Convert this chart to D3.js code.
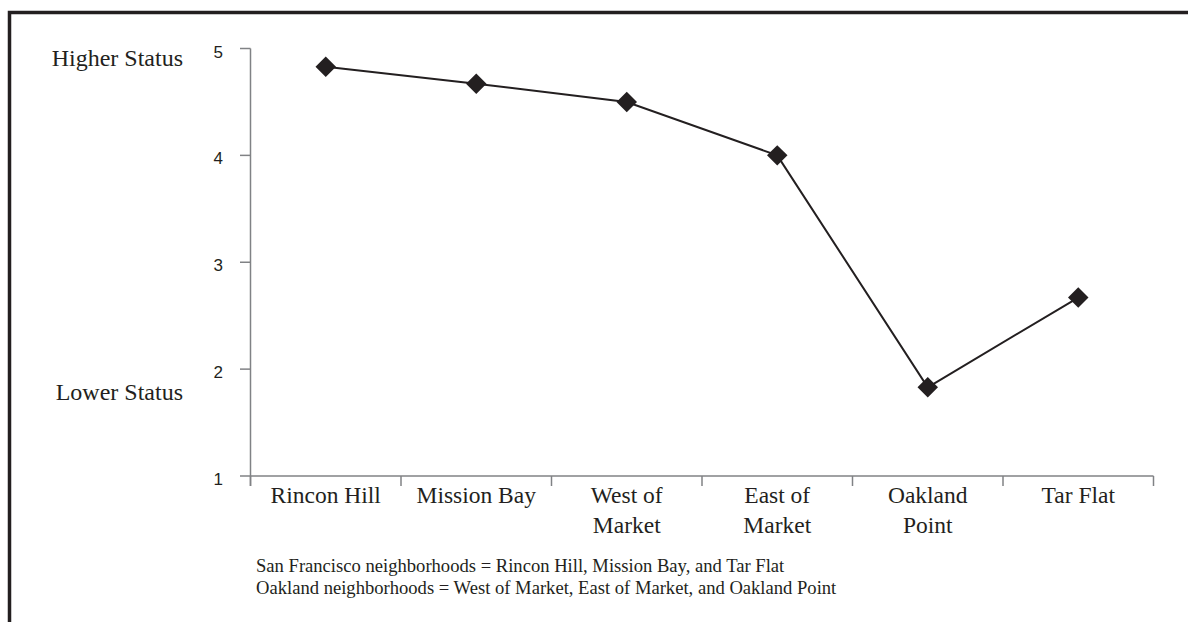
<!DOCTYPE html>
<html><head><meta charset="utf-8">
<script src="https://cdn.jsdelivr.net/npm/d3@7"></script>
<style>body{margin:0;background:#fff}</style>
</head><body>
<script>
const categories = [["Rincon Hill"],["Mission Bay"],["West of","Market"],["East of","Market"],["Oakland","Point"],["Tar Flat"]];
const values = [4.83, 4.67, 4.5, 4.0, 1.83, 2.67];
const yTicks = [1,2,3,4,5];
const statusLabels = [{v:5, t:"Higher Status"},{v:2, t:"Lower Status"}];
const notes = ["San Francisco neighborhoods = Rincon Hill, Mission Bay, and Tar Flat",
               "Oakland neighborhoods = West of Market, East of Market, and Oakland Point"];

const W=1188,H=622;
const svg=d3.select("body").append("svg").attr("width",W).attr("height",H);
const ink="#231f20", axisC="#808285";
const serif="Liberation Serif, Times New Roman, serif";
// frame
svg.append("path").attr("d",`M9.5,${H} V12.5 H${W}`).attr("fill","none").attr("stroke",ink).attr("stroke-width",3.5);

const x=d3.scaleBand().domain(d3.range(categories.length)).range([250.5,1153.5]);
const y=d3.scaleLinear().domain([1,5]).range([476,48.5]);

// y axis
const gy=svg.append("g");
gy.append("line").attr("x1",250.5).attr("x2",250.5).attr("y1",y(5)).attr("y2",y(1)+10).attr("stroke",axisC).attr("stroke-width",1.5);
gy.selectAll("line.t").data(yTicks).join("line").attr("class","t")
  .attr("x1",240).attr("x2",250.5).attr("y1",d=>y(d)).attr("y2",d=>y(d)).attr("stroke",axisC).attr("stroke-width",1.5);
gy.selectAll("text").data(yTicks).join("text")
  .attr("x",223).attr("y",d=>y(d)+9).attr("text-anchor","end")
  .attr("font-family","Liberation Sans, Arial, sans-serif").attr("font-size",17).attr("fill",ink).text(d=>d);

// x axis
const gx=svg.append("g");
gx.append("line").attr("x1",250.5).attr("x2",1153.5).attr("y1",y(1)).attr("y2",y(1)).attr("stroke",axisC).attr("stroke-width",1.5);
const edges=d3.range(categories.length+1).map(i=> i<categories.length? x(i) : x(i-1)+x.bandwidth());
gx.selectAll("line.t").data(edges).join("line").attr("class","t")
  .attr("x1",d=>d).attr("x2",d=>d).attr("y1",y(1)).attr("y2",y(1)+10).attr("stroke",axisC).attr("stroke-width",1.5);
const cl=gx.selectAll("text").data(categories).join("text")
  .attr("x",(d,i)=>x(i)+x.bandwidth()/2).attr("y",503).attr("text-anchor","middle")
  .attr("font-family",serif).attr("font-size",23.5).attr("fill",ink);
cl.selectAll("tspan").data(d=>d).join("tspan").attr("x",function(){return this.parentNode.getAttribute("x");})
  .attr("dy",(d,j)=>j?30:0).text(d=>d);

// status labels
svg.selectAll("text.st").data(statusLabels).join("text").attr("class","st")
  .attr("x",183).attr("y",d=>y(d.v)+(d.v===5?17:31)).attr("text-anchor","end")
  .attr("font-family",serif).attr("font-size",24).attr("fill",ink).text(d=>d.t);

// line
const pts=values.map((v,i)=>[x(i)+x.bandwidth()/2,y(v)]);
svg.append("path").attr("d",d3.line()(pts)).attr("fill","none").attr("stroke",ink).attr("stroke-width",2);
svg.selectAll("path.m").data(pts).join("path").attr("class","m")
  .attr("d",d3.symbol(d3.symbolSquare,210)()).attr("transform",d=>`translate(${d[0]},${d[1]}) rotate(45)`).attr("fill",ink);

// notes
svg.selectAll("text.n").data(notes).join("text").attr("class","n")
  .attr("x",256).attr("y",(d,i)=>572+i*21.5)
  .attr("font-family",serif).attr("font-size",18.6).attr("fill",ink).text(d=>d);
</script>
</body></html>
